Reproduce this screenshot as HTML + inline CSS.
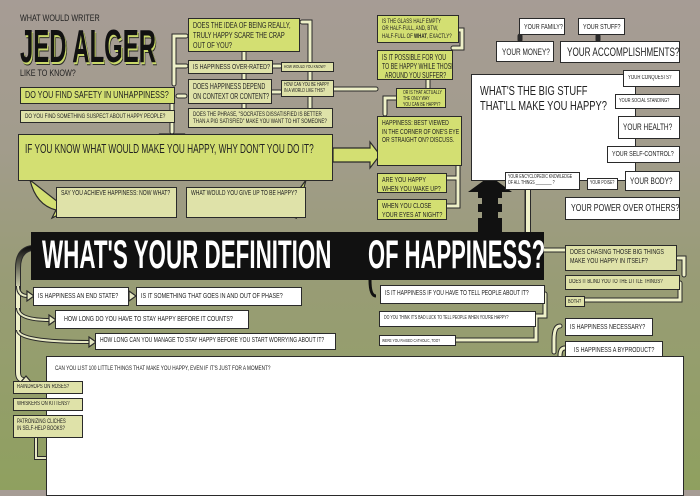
<!DOCTYPE html>
<html><head><meta charset="utf-8"><style>
*{margin:0;padding:0;box-sizing:border-box}
body{width:700px;height:490px;overflow:hidden;position:relative;
background:linear-gradient(180deg,#a69c95 0%,#a29c8c 30%,#999c77 55%,#8fa05f 100%);
font-family:"Liberation Sans Narrow","Liberation Sans",sans-serif;color:#222}
.b{position:absolute;border:1.5px solid #2a2a2a;font-size:8px;line-height:1.15;padding:2px 4px;white-space:nowrap;overflow:hidden;text-transform:uppercase}
.b>span{display:inline-block;transform:scaleX(.72);transform-origin:0 0}
.g{background:#d3df72}.p{background:#dfe2a9}.w{background:#fff}
.t{position:absolute;white-space:nowrap}
svg{position:absolute;left:0;top:0}
</style></head><body>
<svg width="700" height="490">
<g fill="none" stroke="#2a2a2a" stroke-width="5" stroke-linecap="round">
<path d="M178 96 H185 M174 84 V36 H186 M174 66 H186 M272 66 H280 M272 92 H280 M244 52 V60 M244 73 V79 M244 104 V108 M310 80 V22 H302 M310 108 V97 M172 104 V116 M172 122 V132 M459 30 H462 V48 H453 M428 80 V88 M396 98 H385 V114 M458 166 V178 H447 M458 178 V206 H447 M527 181 V240 Q527 248 545 250 H565 M678 258 H684 V275 M680 283 V300 H584 M545 294 V304 V316 H536 M536 316 V340 H456 M560 326 Q554 326 554 340 V352 M565 348 Q560 348 560 356 M520 40 V36 M598 40 V36 M334 89 H376"/>
</g>
<g fill="none" stroke="#eef0c8" stroke-width="3" stroke-linecap="round">
<path d="M178 96 H185 M174 84 V36 H186 M174 66 H186 M272 66 H280 M272 92 H280 M244 52 V60 M244 73 V79 M244 104 V108 M310 80 V22 H302 M310 108 V97 M172 104 V116 M172 122 V132 M459 30 H462 V48 H453 M428 80 V88 M396 98 H385 V114 M458 166 V178 H447 M458 178 V206 H447 M527 181 V240 Q527 248 545 250 H565 M678 258 H684 V275 M680 283 V300 H584 M545 294 V304 V316 H536 M536 316 V340 H456 M560 326 Q554 326 554 340 V352 M565 348 Q560 348 560 356 M334 89 H376"/>
</g>
<path d="M30 180 Q36 205 56 210 L52 218 L64 212 L58 202 Z M306 180 Q300 205 292 210 L296 218 L282 212 L290 202 Z" fill="#d3df72" stroke="#2a2a2a" stroke-width="1.2"/>
<path d="M160 134 L172 146 L184 134 Z" fill="#d3df72" stroke="#2a2a2a" stroke-width="1.2"/>
<path d="M333 148 H370 V142 L380 155 L370 168 V162 H333 Z" fill="#d3df72" stroke="#2a2a2a" stroke-width="1.2"/>
<defs><linearGradient id="lg" x1="0" y1="0" x2="0" y2="1"><stop offset="0" stop-color="#111"/><stop offset="0.35" stop-color="#eef0c8"/><stop offset="1" stop-color="#eef0c8"/></linearGradient></defs>
<path d="M32 248 Q18 250 18 268 V372 Q18 380 24 380" fill="none" stroke="#2a2a2a" stroke-width="6"/>
<path d="M32 248 Q18 250 18 268 V372 Q18 380 24 380" fill="none" stroke="url(#lg)" stroke-width="4"/>
<path d="M18 286 Q18 296 28 296 M18 308 Q18 320 50 320 M18 330 Q18 342 90 342" fill="none" stroke="#2a2a2a" stroke-width="4"/>
<path d="M18 286 Q18 296 28 296 M18 308 Q18 320 50 320 M18 330 Q18 342 90 342" fill="none" stroke="#e6e8c2" stroke-width="2"/>
<path d="M27 291 L34 296 L27 301Z M49 315 L56 320 L49 325Z M89 337 L96 342 L89 347Z M129 291 L136 296 L129 301Z M26 376 L32 383 L20 383Z M58 453 L64 458 L58 463Z" fill="#e6e8c2" stroke="#2a2a2a" stroke-width="1.2"/>
<path d="M36 438 V458 H58" fill="none" stroke="#2a2a2a" stroke-width="4"/><path d="M36 438 V458 H58" fill="none" stroke="#e6e8c2" stroke-width="2"/>
<path d="M370 280 Q370 296 376 296" fill="none" stroke="#111" stroke-width="3"/>
<path d="M478 232 V218 H482 V212 H478 V204 H482 V198 H478 V192 H468 L490 176 L512 192 H502 V198 H498 V204 H502 V212 H498 V218 H502 V232 Z" fill="#111"/>
<path d="M528 240 V168" stroke="#2a2a2a" stroke-width="6"/><path d="M528 240 V168" stroke="#eef0c8" stroke-width="4"/>
<path d="M520 170 L528 160 L536 170Z" fill="#eef0c8" stroke="#2a2a2a" stroke-width="1.2"/>
</svg>

<div class="t" style="left:20px;top:13px;font-size:9px;transform:scaleX(.8);transform-origin:left">WHAT WOULD WRITER</div>
<div class="t" style="left:20px;top:26px;font-size:46px;font-weight:bold;line-height:40px;transform:scaleX(0.52);transform-origin:left;color:#111;text-shadow:2px 2px 0 #c9d86a,3px 3px 0 #2a2a2a">JED ALGER</div>
<div class="t" style="left:20px;top:68px;font-size:9px;transform:scaleX(.8);transform-origin:left">LIKE TO KNOW?</div>

<div class="b g" style="left:188px;top:18px;width:112px;height:34px;font-size:8.5px"><span style="transform:scaleX(.68)">Does the idea of being really,<br>truly happy scare the crap<br>out of you?</span></div>
<div class="b p" style="left:188px;top:60px;width:85px;height:14px;font-size:7.5px"><span>Is happiness over-rated?</span></div>
<div class="b p" style="left:281px;top:62px;width:53px;height:10px;font-size:4.5px;padding:1px 2px"><span>How would you know?</span></div>
<div class="b p" style="left:188px;top:79px;width:84px;height:25px;font-size:8.5px"><span style="transform:scaleX(.64)">Does happiness depend<br>on context or content?</span></div>
<div class="b p" style="left:281px;top:80px;width:53px;height:17px;font-size:5px;padding:2px"><span>How can you be happy<br>in a world like this?</span></div>
<div class="b g" style="left:20px;top:87px;width:155px;height:17px;font-size:10px"><span>Do you find safety in unhappiness?</span></div>
<div class="b p" style="left:20px;top:110px;width:155px;height:13px;font-size:6.5px"><span>Do you find something suspect about happy people?</span></div>
<div class="b p" style="left:188px;top:108px;width:145px;height:20px;font-size:6.5px"><span style="transform:scaleX(.7)">Does the phrase, "Socrates dissatisfied is better<br>than a pig satisfied" make you want to hit someone?</span></div>
<div class="b g" style="left:18px;top:134px;width:315px;height:47px;font-size:12.5px;padding:7px 6px"><span style="transform:scaleX(.66)">If you know what would make you happy, why don't you do it?</span></div>
<div class="b p" style="left:56px;top:187px;width:121px;height:31px;font-size:7px"><span>Say you achieve happiness: now what?</span></div>
<div class="b p" style="left:186px;top:187px;width:120px;height:31px;font-size:7px"><span>What would you give up to be happy?</span></div>

<div class="b g" style="left:377px;top:15px;width:82px;height:28px;font-size:6.5px"><span style="transform:scaleX(.68)">Is the glass half empty<br>or half-full, and, btw,<br>half-full of <b>what</b>, exactly?</span></div>
<div class="b g" style="left:377px;top:50px;width:76px;height:30px;font-size:8px"><span style="transform:scaleX(.66)">Is it possible for you<br>to be happy while those<br>&nbsp;&nbsp;around you suffer?</span></div>
<div class="b g" style="left:396px;top:88px;width:50px;height:20px;font-size:5px;padding:2px 6px"><span>Or is that actually<br>the only way<br>you can be happy?</span></div>
<div class="b g" style="left:377px;top:116px;width:85px;height:50px;font-size:7.5px"><span style="transform:scaleX(.68)">Happiness: best viewed<br>in the corner of one's eye<br>or straight on? Discuss.</span></div>
<div class="b g" style="left:377px;top:173px;width:70px;height:20px;font-size:7.5px"><span>Are you happy<br>when you wake up?</span></div>
<div class="b g" style="left:377px;top:199px;width:70px;height:21px;font-size:7.5px"><span>When you close<br>your eyes at night?</span></div>

<div class="b w" style="left:519px;top:18px;width:46px;height:17px;font-size:7.5px;padding:4px"><span>Your family?</span></div>
<div class="b w" style="left:578px;top:18px;width:47px;height:17px;font-size:7.5px;padding:4px"><span>Your stuff?</span></div>
<div class="b w" style="left:496px;top:41px;width:58px;height:21px;font-size:9px;padding:5px"><span>Your money?</span></div>
<div class="b w" style="left:560px;top:41px;width:120px;height:22px;font-size:12px;padding:4px 6px"><span style="transform:scaleX(.68)">Your accomplishments?</span></div>
<div class="b w" style="left:471px;top:74px;width:165px;height:107px;font-size:13px;padding:9px 8px"><span>What's the big stuff<br>that'll make you happy?</span></div>
<div class="b w" style="left:623px;top:70px;width:57px;height:17px;font-size:6px;padding:4px"><span>Your conquests?</span></div>
<div class="b w" style="left:615px;top:94px;width:65px;height:15px;font-size:5.5px;padding:3px"><span>Your social standing?</span></div>
<div class="b w" style="left:618px;top:116px;width:62px;height:23px;font-size:9px;padding:5px 4px"><span>Your health?</span></div>
<div class="b w" style="left:607px;top:146px;width:73px;height:17px;font-size:7.5px;padding:3px 4px"><span>Your self-control?</span></div>
<div class="b w" style="left:625px;top:171px;width:55px;height:20px;font-size:9px;padding:4px"><span>Your body?</span></div>
<div class="b w" style="left:505px;top:172px;width:75px;height:18px;font-size:5px;padding:2px"><span>Your encyclopedic knowledge<br>of all things ________ ?</span></div>
<div class="b w" style="left:587px;top:178px;width:31px;height:12px;font-size:5px;padding:2px"><span>Your poise?</span></div>
<div class="b w" style="left:565px;top:197px;width:115px;height:23px;font-size:10px;padding:5px"><span>Your power over others?</span></div>

<div style="position:absolute;left:31px;top:232px;width:513px;height:48px;background:#111"></div>
<div class="t" style="left:42px;top:231px;font-size:40px;font-weight:bold;color:#fff;line-height:48px;transform:scaleX(0.56);transform-origin:left">WHAT'S YOUR DEFINITION</div>
<div class="t" style="left:368px;top:231px;font-size:40px;font-weight:bold;color:#fff;line-height:48px;transform:scaleX(0.55);transform-origin:left">OF HAPPINESS?</div>

<div class="b w" style="left:33px;top:287px;width:96px;height:19px;font-size:7.5px;padding:4px"><span>Is happiness an end state?</span></div>
<div class="b w" style="left:136px;top:287px;width:166px;height:19px;font-size:7.5px;padding:4px"><span>Is it something that goes in and out of phase?</span></div>
<div class="b w" style="left:55px;top:310px;width:194px;height:19px;font-size:7.5px;padding:4px 8px"><span>How long do you have to stay happy before it counts?</span></div>
<div class="b w" style="left:95px;top:333px;width:241px;height:17px;font-size:7px;padding:3px 4px"><span>How long can you manage to stay happy before you start worrying about it?</span></div>
<div class="b w" style="left:380px;top:285px;width:165px;height:19px;font-size:7px;padding:4px"><span>Is it happiness if you have to tell people about it?</span></div>
<div class="b w" style="left:379px;top:311px;width:157px;height:16px;font-size:5px;padding:4px"><span>Do you think it's bad luck to tell people when you're happy?</span></div>
<div class="b w" style="left:379px;top:335px;width:77px;height:11px;font-size:4.5px;padding:2px"><span>Were you raised Catholic, too?</span></div>

<div class="b p" style="left:565px;top:245px;width:112px;height:26px;font-size:7.5px"><span>Does chasing those big things<br>make you happy in itself?</span></div>
<div class="b p" style="left:565px;top:275px;width:115px;height:15px;font-size:6px;padding:3px"><span>Does it blind you to the little things?</span></div>
<div class="b p" style="left:565px;top:296px;width:20px;height:11px;font-size:5.5px;padding:2px"><span>Both?</span></div>
<div class="b w" style="left:565px;top:318px;width:88px;height:18px;font-size:7.5px;padding:4px"><span>Is happiness necessary?</span></div>
<div class="b w" style="left:565px;top:341px;width:98px;height:18px;font-size:7.5px;padding:4px 8px"><span>Is happiness a byproduct?</span></div>

<div class="b w" style="left:46px;top:356px;width:638px;height:140px;font-size:6.5px;padding:8px 8px"><span>Can you list 100 little things that make you happy, even if it's just for a moment?</span></div>
<div class="b p" style="left:13px;top:381px;width:70px;height:13px;font-size:6px;padding:2px 3px"><span>Raindrops on roses?</span></div>
<div class="b p" style="left:13px;top:398px;width:70px;height:13px;font-size:6px;padding:2px 3px"><span>Whiskers on kittens?</span></div>
<div class="b p" style="left:13px;top:415px;width:70px;height:23px;font-size:6px;padding:3px"><span>Patronizing clichés<br>in self-help books?</span></div>
</body></html>
